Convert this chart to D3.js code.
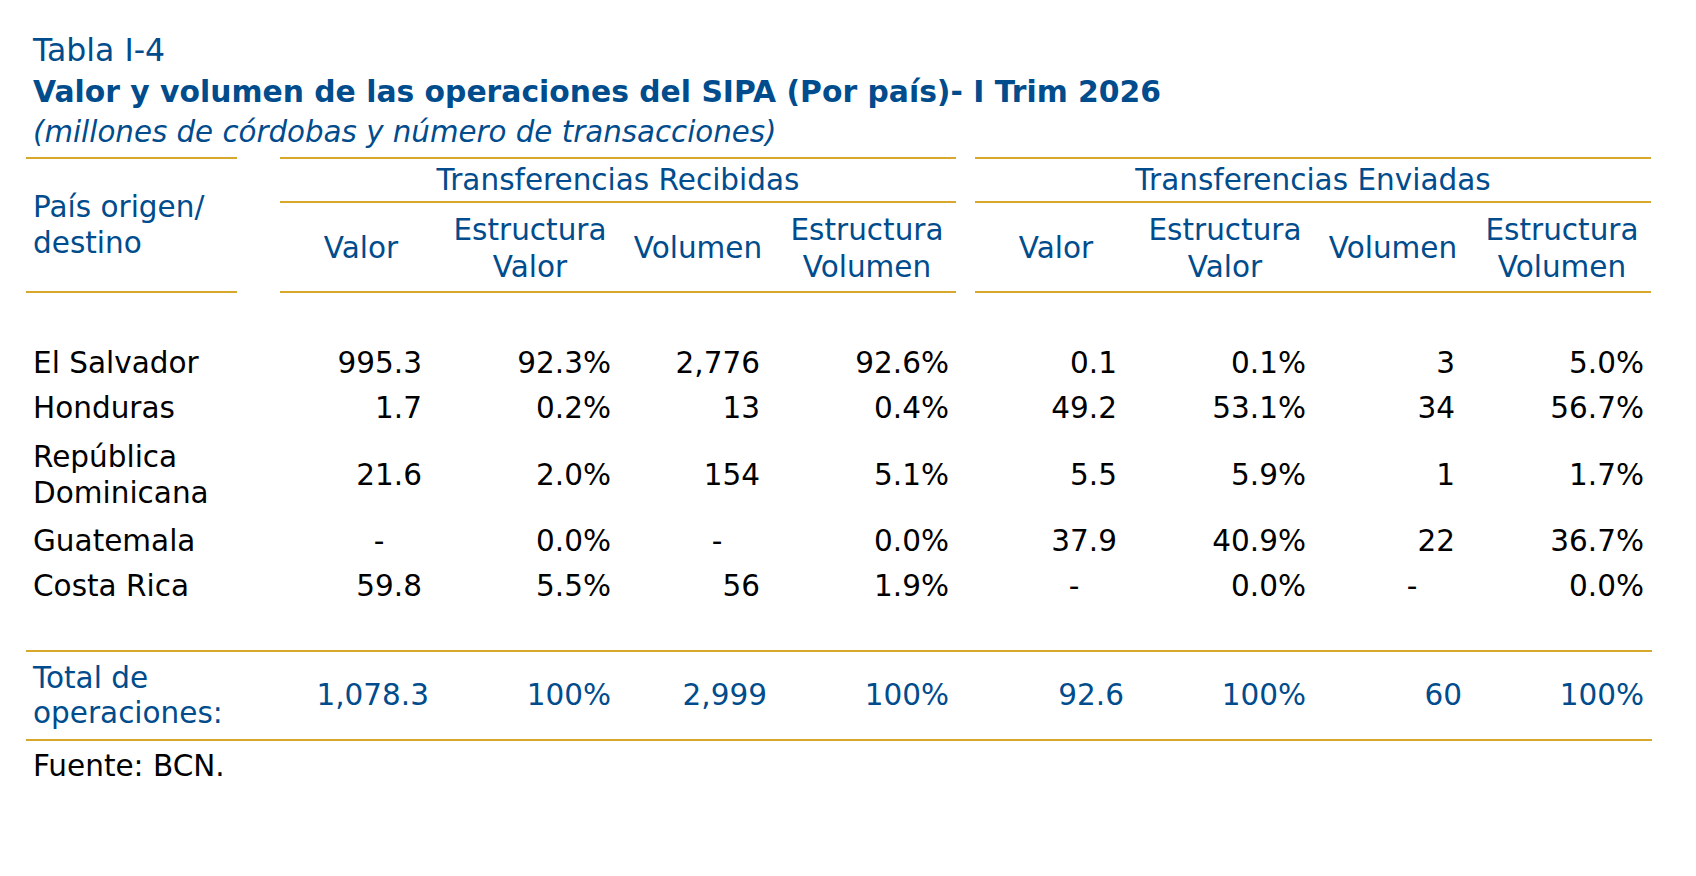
<!DOCTYPE html>
<html>
<head>
<meta charset="utf-8">
<script src="https://cdn.jsdelivr.net/npm/d3@7"></script>
<style>
  html, body { margin: 0; padding: 0; background: #fff; }
  text { font-family: "DejaVu Sans", Verdana, sans-serif; }
</style>
</head>
<body>
<div id="container"></div>
<script>
/* DATA */
const countries = ["El Salvador", "Honduras", "República\nDominicana", "Guatemala", "Costa Rica"];
const rowLines = [1, 1, 2, 1, 1];

const recValor    = [995.3, 1.7, 21.6, null, 59.8];
const recEstValor = [92.3, 0.2, 2.0, 0.0, 5.5];
const recVolumen  = [2776, 13, 154, null, 56];
const recEstVol   = [92.6, 0.4, 5.1, 0.0, 1.9];
const envValor    = [0.1, 49.2, 5.5, 37.9, null];
const envEstValor = [0.1, 53.1, 5.9, 40.9, 0.0];
const envVolumen  = [3, 34, 1, 22, null];
const envEstVol   = [5.0, 56.7, 1.7, 36.7, 0.0];

const totals = [1078.3, 100, 2999, 100, 92.6, 100, 60, 100];

const groups = ["Transferencias Recibidas", "Transferencias Enviadas"];
const subHeaders = [["Valor"], ["Estructura", "Valor"], ["Volumen"], ["Estructura", "Volumen"]];
const colKinds = ["valor", "pct", "vol", "pct"];

/* LAYOUT */
const width = 1696, height = 876;
const blue = "#004c8c", gold = "#d8a82a", fs = 29.5;

const svg = d3.select("#container")
  .append("svg")
  .attr("width", width)
  .attr("height", height);

// columns: 2 groups x 4 cells
const groupStart = [280, 975];
const cellW = [162, 176, 160, 178];
const cols = d3.range(8);
const colLeft = d3.scaleOrdinal()
  .domain(cols)
  .range(cols.map(i => groupStart[Math.floor(i / 4)] + d3.sum(cellW.slice(0, i % 4))));
const colWidth = i => cellW[i % 4];
const padRight = { valor: 20, vol: 18, pct: 7 };
const colRight = i => colLeft(i) + colWidth(i) - padRight[colKinds[i % 4]];

// rows: cumulative line units
const cum = rowLines.map((d, i) => d3.sum(rowLines.slice(0, i)) + d / 2);
const yRow = d3.scaleLinear().domain([0.5, 5.5]).range([373, 596]);

const fmtValor = d3.format(",.1f"), fmtVol = d3.format(","), fmtPct = d => d3.format(".1f")(d) + "%";

/* TITLES */
svg.append("text").attr("x", 33).attr("y", 61)
  .attr("fill", blue).attr("font-size", 31.5).text("Tabla I-4");
svg.append("text").attr("x", 33).attr("y", 102)
  .attr("fill", blue).attr("font-size", 29.8).attr("font-weight", "bold")
  .text("Valor y volumen de las operaciones del SIPA (Por país)- I Trim 2026");
svg.append("text").attr("x", 33).attr("y", 142)
  .attr("fill", blue).attr("font-size", 29.3).attr("font-style", "italic")
  .text("(millones de córdobas y número de transacciones)");

/* RULES */
function rule(x1, x2, y) {
  svg.append("line").attr("x1", x1).attr("x2", x2).attr("y1", y).attr("y2", y)
    .attr("stroke", gold).attr("stroke-width", 2);
}
rule(26, 237, 158);
rule(26, 237, 292);
groupStart.forEach(g => {
  const end = g + d3.sum(cellW);
  rule(g, end, 158);
  rule(g, end, 202);
  rule(g, end, 292);
});
rule(26, 1652, 651);
rule(26, 1652, 740);

/* HEADERS */
function multiText(x, yMid, lines, anchor, color, gap) {
  const t = svg.append("text").attr("text-anchor", anchor).attr("fill", color).attr("font-size", fs);
  lines.forEach((l, k) => {
    t.append("tspan").attr("x", x)
      .attr("y", yMid + (k - (lines.length - 1) / 2) * gap)
      .text(l);
  });
  return t;
}

multiText(33, 235, ["País origen/", "destino"], "start", blue, 36);

groups.forEach((g, gi) => {
  svg.append("text")
    .attr("x", groupStart[gi] + d3.sum(cellW) / 2).attr("y", 190)
    .attr("text-anchor", "middle").attr("fill", blue).attr("font-size", fs)
    .text(g);
});

cols.forEach(i => {
  multiText(colLeft(i) + colWidth(i) / 2, 258, subHeaders[i % 4], "middle", blue, 37);
});

/* BODY */
const series = [recValor, recEstValor, recVolumen, recEstVol, envValor, envEstValor, envVolumen, envEstVol];

countries.forEach((c, r) => {
  multiText(33, yRow(cum[r]), c.split("\n"), "start", "#000", 36);
});

series.forEach((s, i) => {
  const kind = colKinds[i % 4];
  svg.append("g").selectAll("text")
    .data(s)
    .join("text")
    .attr("x", d => d == null ? colRight(i) - 43 : colRight(i))
    .attr("y", (d, r) => yRow(cum[r]))
    .attr("text-anchor", d => d == null ? "middle" : "end")
    .attr("fill", "#000")
    .attr("font-size", fs)
    .text(d => d == null ? "-" : kind === "pct" ? fmtPct(d) : kind === "vol" ? fmtVol(d) : fmtValor(d));
});

/* TOTAL */
multiText(33, 705, ["Total de", "operaciones:"], "start", blue, 35);
svg.append("g").selectAll("text")
  .data(totals)
  .join("text")
  .attr("x", (d, i) => colKinds[i % 4] === "pct" ? colRight(i) : colRight(i) + 7)
  .attr("y", 705)
  .attr("text-anchor", "end")
  .attr("fill", blue)
  .attr("font-size", fs)
  .text((d, i) => {
    const kind = colKinds[i % 4];
    return kind === "pct" ? d + "%" : kind === "vol" ? fmtVol(d) : fmtValor(d);
  });

svg.append("text").attr("x", 33).attr("y", 776)
  .attr("fill", "#000").attr("font-size", fs).text("Fuente: BCN.");
</script>
</body>
</html>
